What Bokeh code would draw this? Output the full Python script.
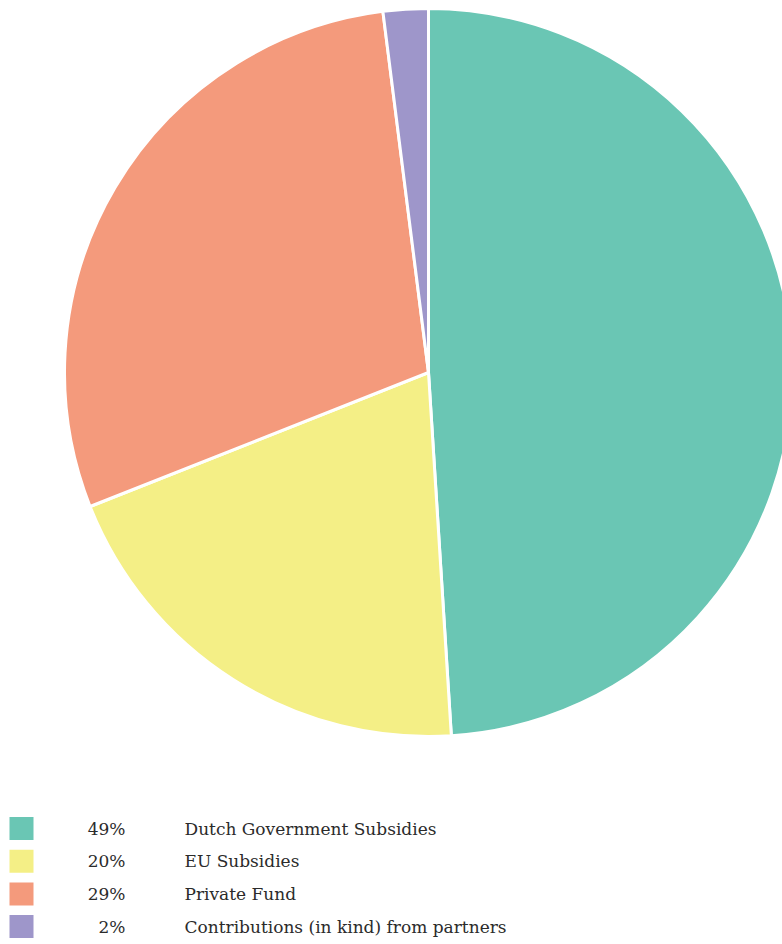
import numpy as np
from bokeh.plotting import figure
from bokeh.models import Range1d, ColumnDataSource
from bokeh.core.properties import value
from bokeh.embed import file_html
from bokeh.resources import INLINE

categories = ["Dutch Government Subsidies", "EU Subsidies", "Private Fund",
              "Contributions (in kind) from partners"]
shares = [49, 20, 29, 2]
pct_labels = ["49%", "20%", "29%", "2%"]
colors = ["#6AC6B4", "#F4EF86", "#F49A7C", "#9E96CA"]

W, H = 782, 944
p = figure(width=W, height=H, output_backend="svg", toolbar_location=None,
           x_range=Range1d(0, W), y_range=Range1d(0, H), min_border=0)
p.axis.visible = False
p.grid.visible = False
p.outline_line_color = None
p.background_fill_color = "white"
p.border_fill_color = "white"

vals = np.array(shares, dtype=float)
frac = vals / vals.sum()
cum = np.concatenate([[0], np.cumsum(frac)])
start = np.pi / 2 - cum[:-1] * 2 * np.pi
end = np.pi / 2 - cum[1:] * 2 * np.pi

cx, cy, r = 428, H - 372, 364
src = ColumnDataSource(dict(start=start, end=end, color=colors))
p.wedge(x=cx, y=cy, radius=r, radius_units="screen", start_angle="start",
        end_angle="end", direction="clock", fill_color="color",
        line_color="white", line_width=3, source=src)

# legend
row_y0 = H - 828
spacing = 32.7
ys = [row_y0 - i * spacing for i in range(len(categories))]
lsrc = ColumnDataSource(dict(y=ys, color=colors, pct=pct_labels, cat=categories))
p.rect(x=21, y="y", width=24, height=23, width_units="screen", height_units="screen",
       fill_color="color", line_color=None, source=lsrc)
p.text(x=125, y="y", text="pct", text_align="right", text_baseline="middle",
       text_font=value("DejaVu Serif"), text_font_size="17px", text_color="#2b2b2b",
       source=lsrc)
p.text(x=184, y="y", text="cat", text_align="left", text_baseline="middle",
       text_font=value("DejaVu Serif"), text_font_size="17px", text_color="#2b2b2b",
       source=lsrc)

open("out.html", "w").write(file_html(p, INLINE))
